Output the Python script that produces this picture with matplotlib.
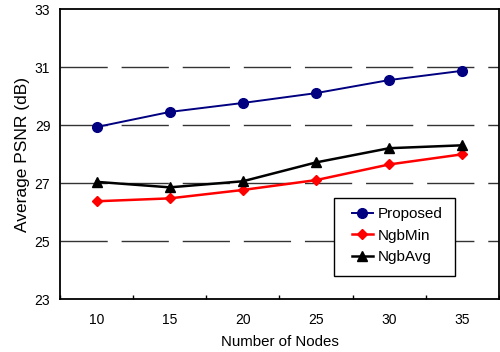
import matplotlib
matplotlib.use("Agg")
import matplotlib.pyplot as plt
from matplotlib.patches import Rectangle
import numpy as np

plt.rcParams['font.family'] = ['Liberation Sans', 'DejaVu Sans']

nodes = ['10', '15', '20', '25', '30', '35']
proposed = [28.93, 29.45, 29.76, 30.10, 30.55, 30.87]
ngbmin = [26.37, 26.47, 26.76, 27.10, 27.64, 27.99]
ngbavg = [27.04, 26.85, 27.06, 27.71, 28.20, 28.30]
yticks = [23, 25, 27, 29, 31, 33]

fig = plt.figure(figsize=(5.0, 3.52), dpi=100)
ax = fig.add_axes([60/500, 53/352, 439/500, 290/352])

x = np.arange(len(nodes))
ax.set_xlim(-0.5, len(nodes) - 0.5)
ax.set_ylim(23, 33)

for yv in yticks[1:-1]:
    ln, = ax.plot([-0.5, len(nodes) - 0.5], [yv, yv], color='#333333', lw=1.0, zorder=1)
    ln.set_dashes((34, 10))

ax.plot(x, proposed, color='#000080', lw=1.4, marker='o', ms=7, label='Proposed', zorder=3)
ax.plot(x, ngbmin, color='#ff0000', lw=1.8, marker='D', ms=5.5, label='NgbMin', zorder=3)
ax.plot(x, ngbavg, color='black', lw=1.8, marker='^', ms=7, label='NgbAvg', zorder=3)

ax.set_xticks(x)
ax.set_xticklabels(nodes, fontsize=10)
ax.set_xticks(np.arange(-0.5, len(nodes)), minor=True)
ax.tick_params(axis='x', which='major', length=0, pad=10)
ax.tick_params(axis='x', which='minor', direction='in', length=3, width=1)
ax.set_yticks(yticks)
ax.set_yticklabels([str(v) for v in yticks], fontsize=10)
ax.tick_params(axis='y', length=0, pad=7)

for s in ax.spines.values():
    s.set_linewidth(1.3)
    s.set_color('black')

ax.set_xlabel('Number of Nodes', fontsize=10.8, labelpad=6)
ax.set_ylabel('Average PSNR (dB)', fontsize=12.5, labelpad=3)

x0 = (334 - 60) / 439
x1 = (455 - 60) / 439
y0 = (299 - 276) / 290
y1 = (299 - 198) / 290
ax.add_patch(Rectangle((x0, y0), x1 - x0, y1 - y0, transform=ax.transAxes,
                       facecolor='white', edgecolor='black', lw=1.0, zorder=4))
leg = ax.legend(loc='upper left', bbox_to_anchor=(x0 + 12/439, y1 - 3/290), frameon=False,
                fontsize=11, handlelength=1.35, handletextpad=0.3, labelspacing=0.5,
                borderaxespad=0)
leg.set_zorder(5)

fig.savefig('out.png', dpi=100)
